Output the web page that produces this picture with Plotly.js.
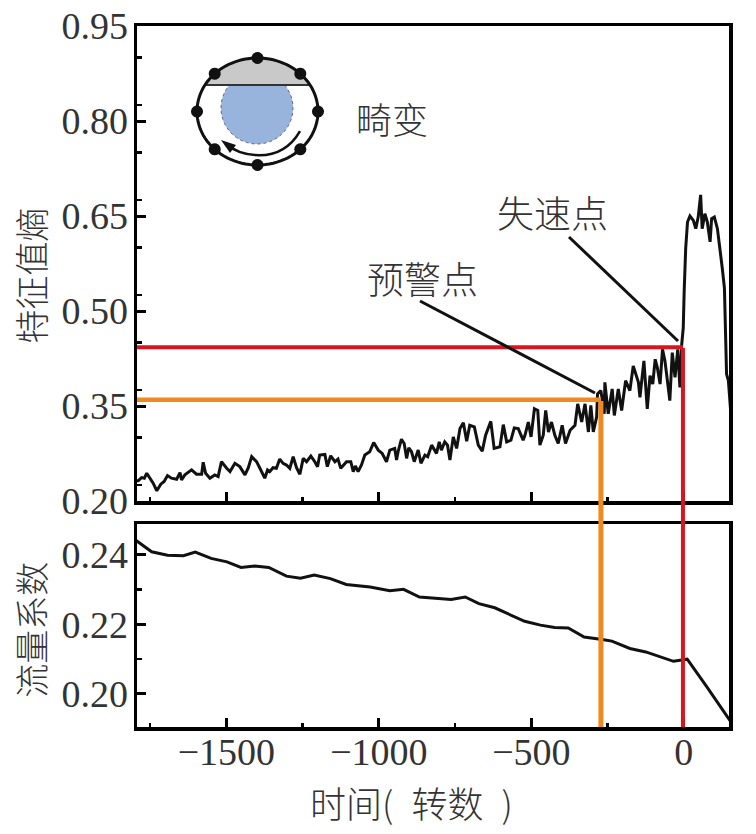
<!DOCTYPE html>
<html><head><meta charset="utf-8">
<script src="https://cdn.plot.ly/plotly-3.0.1.min.js"></script>
<style>html,body{margin:0;padding:0;background:#fff}</style></head>
<body><div id="chart" style="width:756px;height:834px"></div>
<script>
const entropyTurns=[-1800,-1789,-1778,-1769,-1761,-1751,-1740,-1728,-1715,-1704,-1693,-1680,-1663,-1652,-1647,-1636,-1614,-1598,-1581,-1576,-1568,-1554,-1538,-1527,-1516,-1499,-1488,-1472,-1456,-1439,-1428,-1417,-1401,-1390,
-1374,-1365,-1358,-1347,-1336,-1325,-1314,-1303,-1292,-1281,-1270,-1259,-1248,-1237,-1223,-1210,-1201,-1194,-1177,-1169,-1158,-1144,-1134,-1125,-1106,-1092,-1084,-1077,-1068,-1057,-1046,-1030,-1017,-1002,-989,-975,-964,
-948,-942,-937,-926,-917,-909,-902,-893,-884,-871,-862,-849,-840,-827,-811,-802,-795,-784,-775,-767,-756,-745,-734,-723,-712,-702,-687,-674,-661,-650,-633,-622,-603,-592,-581,-567,-556,-543,-527,
-521,-510,-501,-490,-479,-472,-461,-453,-444,-434,-423,-412,-399,-388,-373,-357,-348,-335,-324,-313,-305,-297,-286,-283,-272,-261,-259,-248,-235,-228,-215,-204,-191,-177,-166,-149,-144,
-131,-120,-111,-102,-94,-87,-78,-70,-62,-54,-46,-38,-29,-20,-13,-7,-2,1,6,12,20,31,39,47,55,60,69,77,86,91,100,110,118,126,133,136,138,140,146,151,154];
const entropyValues=[.2318,.2318,.237,.236,.2438,.236,.2282,.2162,.2266,.2308,.2402,.236,.2344,.2449,.2334,.2412,.2491,.2423,.2423,.2611,.2438,.236,.2412,.2386,.2621,.2517,.2464,.2595,.2543,.2412,.2527,.27,.2621,.2517,
.236,.249,.2464,.2526,.2516,.2662,.2594,.2568,.2516,.2699,.2526,.2422,.2673,.262,.2709,.262,.2542,.2725,.2735,.2542,.2714,.262,.2662,.2516,.262,.262,.2464,.2553,.2464,.2568,.2725,.2777,.2923,.2803,.2751,.262,.2803,
.283,.2647,.2778,.2976,.2908,.2673,.284,.2778,.2621,.2804,.2595,.2726,.27,.2882,.2752,.2934,.2804,.2934,.2882,.2647,.3013,.283,.3143,.3237,.2945,.3195,.3169,.2882,.2788,.3039,.3258,.283,.2856,.3206,.2934,.2961,.3154,.3143,.2961,
.3038,.3247,.3012,.3456,.343,.2882,.3038,.343,.309,.3247,.3038,.2908,.3195,.2908,.3116,.3195,.3534,.3247,.3534,.309,.3508,.309,.3325,.3691,.3743,.3377,.3873,.3377,.3769,.3351,.3769,.343,.39,.3743,.4134,.3873,.3638,
.4212,.3455,.3978,.3847,.4238,.4108,.3847,.4395,.4212,.3899,.3586,.4343,.3951,.4395,.3795,.4473,.4734,.5309,.5987,.6405,.6499,.6431,.63,.6483,.6833,.63,.6535,.6405,.6092,.6457,.6483,.63,.6013,.5674,.5361,.4891,.4526,.4004,.39,.3586,.3377];
const flowTurns=[-1800,-1771,-1745,-1693,-1641,-1602,-1550,-1498,-1452,-1407,-1361,-1303,-1257,-1212,-1159,-1107,-1029,-964,-919,-867,-808,-763,-717,-672,-620,-522,-470,-424,-379,-327,-268,-236,-177,-125,-34,11,76,154];
const flowValues=[.2444,.2425,.2409,.2399,.2398,.2408,.239,.238,.2364,.2368,.2364,.2339,.2333,.2342,.2332,.2315,.2308,.2297,.2301,.2279,.2276,.2272,.2279,.226,.2248,.2209,.2198,.2191,.219,.2164,.2157,.2152,.2131,.2121,.2094,.21,.202,.192];
const warningTurn=-272, warningEntropy=.3597, stallTurn=-3, stallEntropy=.4427;
const entropyTitle="特征值熵\u2002\u2009\u200B", flowTitle="流量系数\u2005\u200B", timeTitle="时间(\u2002转数\u2002)\u3000\u2009\u200B";
const labelDistortion="畸变", labelStall="失速点", labelWarning="预警点";
const RED="#d8161f", ORANGE="#ee8a20", INK="#333";

const W=756,H=834,L=137,R=27,T=26,B=107;
const px=x=>(x-L)/(W-L-R), py=y=>(H-B-y)/(H-T-B);
const P=(x,y)=>px(x).toFixed(5)+","+py(y).toFixed(5);
function arcPts(cx,cy,rx,ry,a0,a1,n){const o=[];for(let i=0;i<=n;i++){const a=(a0+(a1-a0)*i/n)*Math.PI/180;o.push([cx+rx*Math.cos(a),cy+ry*Math.sin(a)]);}return o;}
function poly(pts){return "M"+pts.map(p=>P(p[0],p[1])).join(" L")+" Z";}
function curve(s){return s.replace(/(-?[\d.]+) (-?[\d.]+)/g,(m,a,b)=>P(+a,+b));}
const paperShape=o=>Object.assign({type:"path",xref:"paper",yref:"paper",layer:"above"},o);
const cx=257.5,cy=111.5,rx=60.5,ry=53.5;
const chord=Math.asin(26.5/ry)*180/Math.PI;
const blueChord=Math.asin(23/36)*180/Math.PI;
const shapes=[
 {type:"line",xref:"x2",yref:"y2",x0:-1793,x1:warningTurn,y0:warningEntropy,y1:warningEntropy,line:{color:ORANGE,width:4.5}},
 {type:"line",xref:"x",yref:"paper",x0:warningTurn,x1:warningTurn,y0:0,y1:py(401),line:{color:ORANGE,width:5}},
 {type:"line",xref:"x2",yref:"y2",x0:-1793,x1:stallTurn,y0:stallEntropy,y1:stallEntropy,line:{color:RED,width:4}},
 {type:"line",xref:"x",yref:"paper",x0:stallTurn,x1:stallTurn,y0:0,y1:py(348),line:{color:RED,width:4}},
 {type:"line",xref:"paper",yref:"paper",x0:px(420),y0:py(301),x1:px(595),y1:py(393),line:{color:"#111",width:3}},
 {type:"line",xref:"paper",yref:"paper",x0:px(569),y0:py(237),x1:px(678),y1:py(341),line:{color:"#111",width:3}},
 paperShape({path:poly(arcPts(cx,cy,rx,ry,180+chord,360-chord,40)),fillcolor:"#c9c9c9",line:{width:0}}),
 paperShape({path:poly(arcPts(257,108,36,36,-blueChord,180+blueChord,60)),fillcolor:"#98b3dc",line:{color:"#5a6a80",width:1,dash:"dot"}}),
 paperShape({path:"M"+P(204,85)+" L"+P(311,85),line:{color:"#333",width:2}}),
 paperShape({path:poly(arcPts(cx,cy,rx,ry,0,360,96)),line:{color:"#111",width:3}}),
 paperShape({path:curve("M300 131 Q 285 157 255 155 Q 238 154 226 144"),line:{color:"#111",width:2.5}}),
 paperShape({path:curve("M221 140 L 236 145 L 230 153 Z"),fillcolor:"#111",line:{width:0}})
];
[[318,111.5],[300.3,73.7],[257.5,58],[214.7,73.7],[197,111.5],[214.7,149.3],[257.5,165],[300.3,149.3]].forEach(d=>{
 shapes.push(paperShape({path:poly(arcPts(d[0],d[1],6,6,0,360,20)),fillcolor:"#111",line:{width:0}}));
});
const cjk='"Noto Sans CJK SC"';
const note=(t,x,y,s)=>({text:t,xref:"paper",yref:"paper",x:px(x),y:py(y),showarrow:false,xanchor:"center",yanchor:"middle",font:{family:cjk,size:s,color:"#333",weight:300}});
const tickFont={family:'"Liberation Serif",serif',size:38,color:INK};
const frame={showline:true,linecolor:"#000",linewidth:3.5,mirror:true,showgrid:false,zeroline:false,ticks:"inside",tickcolor:"#000",tickwidth:3,ticklen:9,tickfont:tickFont};
const xBase=Object.assign({},frame,{range:[-1793,148],tick0:0,dtick:500,minor:{dtick:250,ticks:"inside",ticklen:4,tickwidth:2.5,tickcolor:"#000"}});
const titleFont={family:cjk,size:34,color:"#333",weight:300};
Plotly.newPlot("chart",[
 {x:flowTurns,y:flowValues,type:"scatter",mode:"lines",line:{color:"#111",width:3},xaxis:"x",yaxis:"y",hoverinfo:"skip"},
 {x:entropyTurns,y:entropyValues,type:"scatter",mode:"lines",line:{color:"#111",width:3},xaxis:"x2",yaxis:"y2",hoverinfo:"skip"}
],{
 width:W,height:H,margin:{l:L,r:R,t:T,b:B},showlegend:false,paper_bgcolor:"#fff",plot_bgcolor:"#fff",
 xaxis:Object.assign({},xBase,{anchor:"y",ticklabelstandoff:-11,title:{text:timeTitle,standoff:21,font:Object.assign({},titleFont,{size:36})}}),
 xaxis2:Object.assign({},xBase,{anchor:"y2",matches:"x",showticklabels:false}),
 yaxis:Object.assign({},frame,{ticklabelstandoff:-2,domain:[0,(H-B-524)/(H-T-B)],range:[.1905,.2489],tick0:.2,dtick:.02,tickformat:".2f",minor:{dtick:.01,ticks:"inside",ticklen:5,tickwidth:2.5,tickcolor:"#000"},anchor:"x",title:{text:flowTitle,standoff:6,font:titleFont}}),
 yaxis2:Object.assign({},frame,{ticklabelstandoff:-2,domain:[(H-B-501)/(H-T-B),1],range:[.2,.95],tick0:.2,dtick:.15,tickformat:".2f",minor:{dtick:.075,ticks:"inside",ticklen:5,tickwidth:2.5,tickcolor:"#000"},anchor:"x2",title:{text:entropyTitle,standoff:6,font:titleFont}}),
 shapes:shapes,
 annotations:[note(labelDistortion,392,118,36),note(labelStall,552,212,37),note(labelWarning,422,278,37)]
},{staticPlot:true,displayModeBar:false});
</script></body></html>
